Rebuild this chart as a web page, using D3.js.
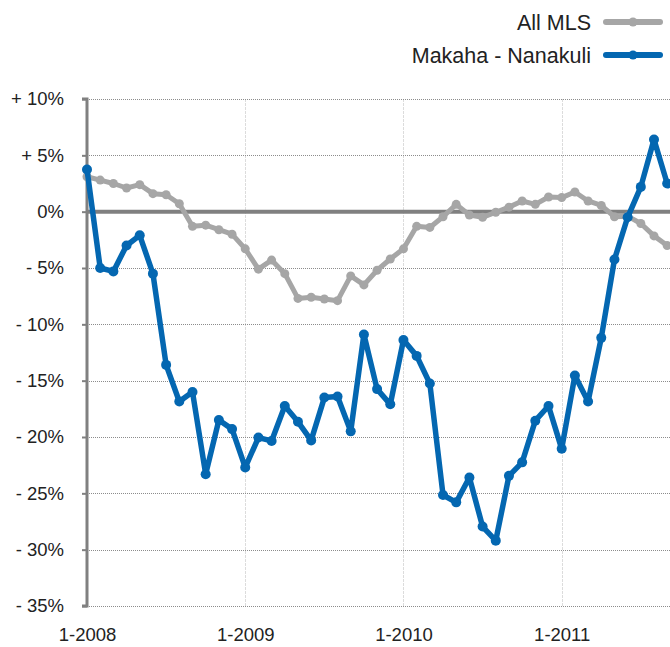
<!DOCTYPE html>
<html>
<head>
<meta charset="utf-8">
<script src="https://cdn.jsdelivr.net/npm/d3@7"></script>
<style>
  html, body { margin: 0; padding: 0; background: #fff; }
  svg { display: block; font-family: "Liberation Sans", Arial, Helvetica, sans-serif; }
</style>
</head>
<body>
<svg id="chart" width="670" height="647"></svg>
<script>
// ---- data ----
const startMonth = new Date(2008, 0, 1);
const seriesNames = ["All MLS", "Makaha - Nanakuli"];
const allMLS = [3.1, 2.8, 2.5, 2.1, 2.4, 1.6, 1.5, 0.7, -1.3, -1.2, -1.6, -2.0,
  -3.3, -5.1, -4.3, -5.5, -7.7, -7.6, -7.75, -7.9, -5.7, -6.5, -5.2, -4.2,
  -3.3, -1.3, -1.4, -0.45, 0.65, -0.3, -0.5, -0.05, 0.4, 0.95, 0.65, 1.3,
  1.25, 1.75, 0.95, 0.55, -0.45, -0.4, -1.05, -2.15, -3.0];
const makaha = [3.75, -5.0, -5.3, -3.0, -2.1, -5.5, -13.6, -16.85, -16.0, -23.3, -18.5, -19.3,
  -22.7, -20.05, -20.35, -17.25, -18.65, -20.3, -16.5, -16.4, -19.5, -10.9, -15.75, -17.1,
  -11.4, -12.8, -15.25, -25.15, -25.8, -23.6, -27.95, -29.2, -23.45, -22.25, -18.55, -17.25,
  -21.05, -14.55, -16.85, -11.2, -4.25, -0.5, 2.2, 6.4, 2.5];
const yTicks = [10, 5, 0, -5, -10, -15, -20, -25, -30, -35];
const yTickLabels = ["+ 10%", "+ 5%", "0%", "- 5%", "- 10%", "- 15%", "- 20%", "- 25%", "- 30%", "- 35%"];
const xTickDates = [new Date(2008, 0, 1), new Date(2009, 0, 1), new Date(2010, 0, 1), new Date(2011, 0, 1)];
const xTickLabels = ["1-2008", "1-2009", "1-2010", "1-2011"];
const colors = ["#a6a6a6", "#0467b1"];

// ---- layout ----
const svg = d3.select("#chart");
const W = 670, H = 647;
const plotLeft = 87, plotTop = 99, plotBottom = 606;

const monthIndex = d => (d.getFullYear() - 2008) * 12 + d.getMonth();
const x = d3.scaleLinear().domain([0, 36]).range([plotLeft, 561.7]);
const y = d3.scaleLinear().domain([-35, 10]).range([plotBottom, plotTop]);

const dates = allMLS.map((_, i) => d3.timeMonth.offset(startMonth, i));

const defs = svg.append("defs");
defs.append("clipPath").attr("id", "clip")
  .append("rect").attr("x", 0).attr("y", 0).attr("width", W).attr("height", H);

// vertical gridlines
svg.append("g").selectAll("line").data(xTickDates.slice(1)).join("line")
  .attr("x1", d => Math.round(x(monthIndex(d))) + 0.5).attr("x2", d => Math.round(x(monthIndex(d))) + 0.5)
  .attr("y1", plotTop).attr("y2", plotBottom)
  .attr("stroke", "#dcdcdc").attr("stroke-width", 1)
  .attr("stroke-dasharray", "3,1");

// horizontal dotted gridlines
svg.append("g").selectAll("line").data(yTicks.filter(v => v !== 0)).join("line")
  .attr("x1", plotLeft).attr("x2", W)
  .attr("y1", d => Math.round(y(d)) + 0.5).attr("y2", d => Math.round(y(d)) + 0.5)
  .attr("stroke", "#8c8c8c").attr("stroke-width", 1)
  .attr("stroke-dasharray", "1,1");

// zero line
svg.append("line")
  .attr("x1", plotLeft).attr("x2", W)
  .attr("y1", y(0)).attr("y2", y(0))
  .attr("stroke", "#808080").attr("stroke-width", 4);

// y axis
const yAxis = d3.axisLeft(y).tickValues(yTicks)
  .tickFormat((d, i) => yTickLabels[i]).tickSize(5).tickPadding(18);
const gy = svg.append("g").attr("transform", `translate(${plotLeft},0)`).call(yAxis);
gy.select(".domain").attr("stroke", "#808080").attr("stroke-width", 3)
  .attr("d", `M-5,${plotTop}H0V${plotBottom}H-5`);
gy.selectAll(".tick line").attr("stroke", "#808080").attr("stroke-width", 2);
gy.selectAll(".tick text").attr("fill", "#222").attr("font-size", 18.5)
  .attr("font-family", "Liberation Sans, Arial, sans-serif");

// x axis labels
const xAxis = d3.axisBottom(x).tickValues(xTickDates.map(monthIndex))
  .tickFormat((d, i) => xTickLabels[i]).tickSize(0).tickPadding(22);
const gx = svg.append("g").attr("transform", `translate(0,${plotBottom})`).call(xAxis);
gx.select(".domain").remove();
gx.selectAll(".tick text").attr("fill", "#222").attr("font-size", 18.5)
  .attr("font-family", "Liberation Sans, Arial, sans-serif");

// series
const series = [allMLS, makaha];
const line = d3.line().x((d, i) => x(monthIndex(dates[i]))).y(d => y(d));
const plot = svg.append("g").attr("clip-path", "url(#clip)");
series.forEach((vals, si) => {
  plot.append("path").datum(vals)
    .attr("fill", "none").attr("stroke", colors[si])
    .attr("stroke-width", si === 0 ? 5 : 5.5).attr("stroke-linejoin", "round").attr("stroke-linecap", "round")
    .attr("d", line);
  plot.append("g").selectAll("circle").data(vals).join("circle")
    .attr("cx", (d, i) => x(monthIndex(dates[i])))
    .attr("cy", d => y(d))
    .attr("r", si === 0 ? 4.5 : 5)
    .attr("fill", colors[si]);
});

// legend
const legend = svg.append("g");
seriesNames.forEach((name, i) => {
  const ly = 22 + i * 33;
  legend.append("text").attr("x", 591).attr("y", ly + 8)
    .attr("text-anchor", "end").attr("font-size", 21.5).attr("fill", "#222")
    .text(name);
  legend.append("line").attr("x1", 606).attr("x2", 660)
    .attr("y1", ly).attr("y2", ly)
    .attr("stroke", colors[i]).attr("stroke-width", 6).attr("stroke-linecap", "round");
  legend.append("circle").attr("cx", 633).attr("cy", ly).attr("r", 4.5).attr("fill", colors[i]);
});
</script>
</body>
</html>
